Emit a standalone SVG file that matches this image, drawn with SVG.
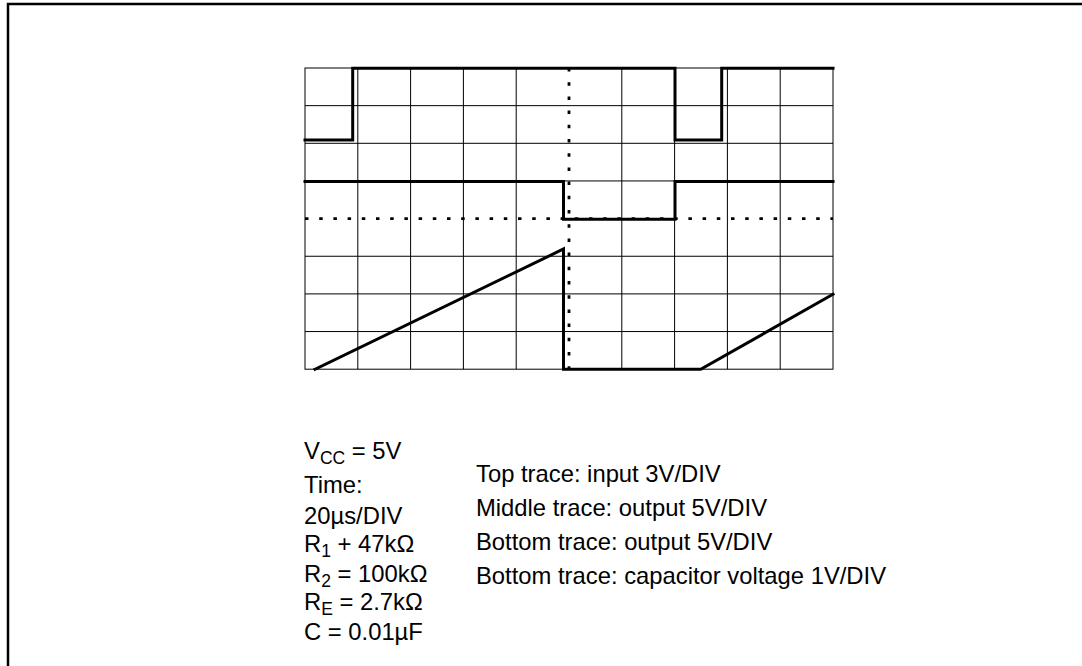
<svg xmlns="http://www.w3.org/2000/svg" width="1082" height="666" viewBox="0 0 1082 666">
<style>
.grid{stroke:#000;stroke-width:1;fill:none}
.dot{stroke:#000;stroke-width:2.8;fill:none;stroke-dasharray:3.5 10.7}
.trace{stroke:#000;stroke-width:3;fill:none;stroke-linejoin:miter;stroke-linecap:square}
.frame{stroke:#000;stroke-width:2.5;fill:none}
text{font-family:"Liberation Sans",Arial,sans-serif;font-size:23.8px;fill:#000}
.sub{font-size:17.5px}
</style>
<rect width="1082" height="666" fill="#fff"/>
<g id="frame"><path class="frame" d="M1082,4 H8 V666"/></g>
<g id="grid">
<rect class="grid" x="305" y="68" width="528" height="301.2"/>
<path class="grid" d="M357.8,68V369.2M410.6,68V369.2M463.4,68V369.2M516.2,68V369.2M621.8,68V369.2M674.6,68V369.2M727.4,68V369.2M780.2,68V369.2M305,105.65H833M305,143.3H833M305,180.95H833M305,256.25H833M305,293.9H833M305,331.55H833"/>
<path class="dot" d="M569,68V369.2"/>
<path class="dot" d="M305,218.6H833"/>
</g>
<g id="connectors">
<path id="top-trace" class="trace" d="M305,140 H352.7 V68.3 H675 V140 H721.7 V68.3 H833"/>
<path id="middle-trace" class="trace" d="M305,181.5 H563.5 V219.2 H675 V181.5 H833"/>
<path id="bottom-trace" class="trace" d="M315,369.3 L563.5,249 V369.3 H700.7 L833,294.3"/>
</g>
<g id="conditions">
<text x="304" y="459">V<tspan class="sub" dy="5">CC</tspan><tspan dy="-5"> = 5V</tspan></text>
<text x="304" y="493">Time:</text>
<text x="304" y="524">20µs/DIV</text>
<text x="304" y="552">R<tspan class="sub" dy="5">1</tspan><tspan dy="-5"> + 47kΩ</tspan></text>
<text x="304" y="582">R<tspan class="sub" dy="5">2</tspan><tspan dy="-5"> = 100kΩ</tspan></text>
<text x="304" y="610">R<tspan class="sub" dy="5">E</tspan><tspan dy="-5"> = 2.7kΩ</tspan></text>
<text x="304" y="640">C = 0.01µF</text>
</g>
<g id="legend">
<text x="476" y="481.7">Top trace: input 3V/DIV</text>
<text x="476" y="516">Middle trace: output 5V/DIV</text>
<text x="476" y="550">Bottom trace: output 5V/DIV</text>
<text x="476" y="584">Bottom trace: capacitor voltage 1V/DIV</text>
</g>
</svg>
